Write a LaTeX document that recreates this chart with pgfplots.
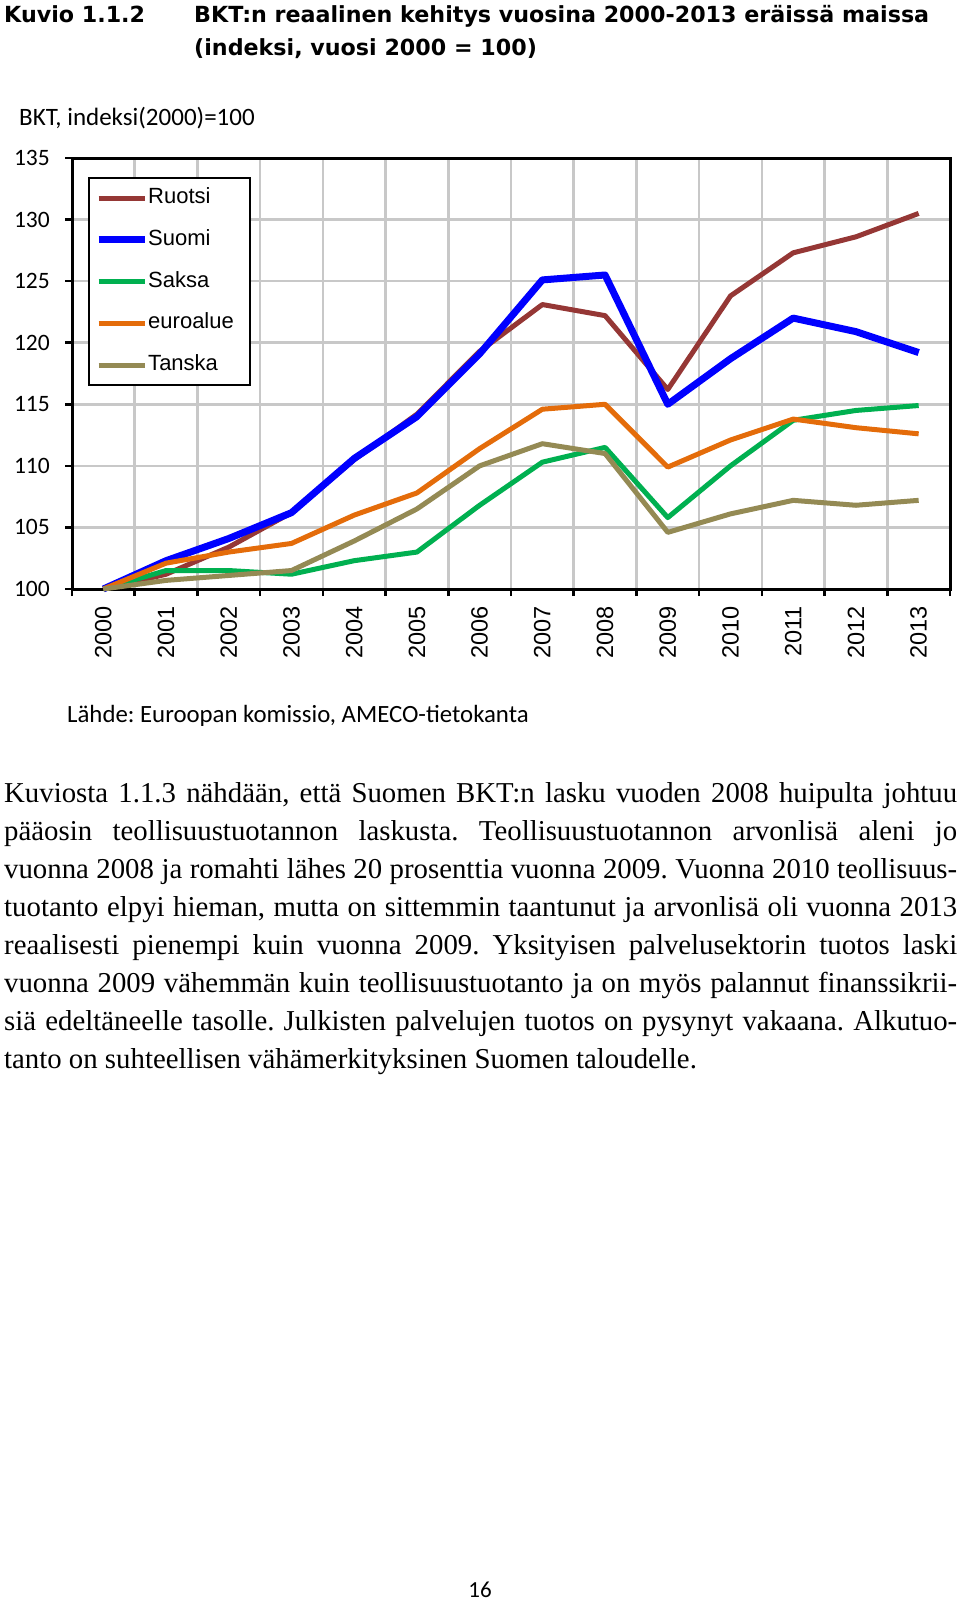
\documentclass[border=0pt]{standalone}
\usepackage{fontspec}
\setmainfont{Liberation Serif}
\newfontfamily\titlefont{DejaVu Sans}
\newfontfamily\calfont{Carlito}
\newfontfamily\arialfont{Liberation Sans}
\usepackage{pgfplots}
\pgfplotsset{compat=1.18}
\definecolor{ruotsi}{HTML}{953735}
\definecolor{suomi}{HTML}{0000FF}
\definecolor{saksa}{HTML}{00B050}
\definecolor{euro}{HTML}{E46C0A}
\definecolor{tanska}{HTML}{948A54}
\definecolor{gridgray}{HTML}{C8C8C8}
\newcommand\bodysize{\fontsize{28.8}{32}\selectfont}
\frenchspacing
\begin{document}
\begin{tikzpicture}[x=1pt,y=1pt]
\path[use as bounding box] (0,0) rectangle (960,-1600);
% heading
\node[anchor=base west, inner sep=0pt] at (4,-23) {\titlefont\bfseries\fontsize{22.2}{26}\selectfont Kuvio 1.1.2};
\node[anchor=base west, inner sep=0pt] at (194,-23) {\titlefont\bfseries\fontsize{22.2}{26}\selectfont BKT:n reaalinen kehitys vuosina 2000-2013 eräissä maissa};
\node[anchor=base west, inner sep=0pt] at (194,-56) {\titlefont\bfseries\fontsize{22.2}{26}\selectfont (indeksi, vuosi 2000 = 100)};
\node[anchor=base west, inner sep=0pt] at (19,-125) {\calfont\fontsize{25}{29}\selectfont BKT, indeksi(2000)=100};

\begin{axis}[
  at={(72pt,-589pt)}, anchor=south west,
  width=878pt, height=431pt, scale only axis,
  xmin=-0.5, xmax=13.5, ymin=100, ymax=135,
  clip=false,
  xtick={0,...,13},
  xticklabels={2000,2001,2002,2003,2004,2005,2006,2007,2008,2009,2010,2011,2012,2013},
  minor xtick={-0.5,0.5,...,13.5},
  ytick={100,105,...,135},
  xminorgrids=true, ymajorgrids=true,
  grid style={gridgray, line width=2.5pt},
  minor grid style={gridgray, line width=2.5pt},
  tick align=outside, tick pos=left,
  major tick length=7pt, minor tick length=7pt,
  tick style={black, line width=2.5pt},
  major x tick style={draw=none},
  axis line style={line width=3pt, black},
  /pgf/number format/assume math mode=true,
  yticklabel style={font=\calfont\fontsize{23.5}{23.5}\selectfont, anchor=east, inner sep=0pt, xshift=-15pt},
  xticklabel style={font=\arialfont\fontsize{23.5}{23.5}\selectfont, yshift=-10pt, rotate=90, anchor=east, inner sep=0pt},
  legend style={at={(0.0182,0.956)}, anchor=north west, draw=black, line width=2.5pt, fill=white,
    font=\arialfont\fontsize{22}{22}\selectfont, row sep=17.7pt, inner xsep=6pt, inner ysep=8pt,
    nodes={inner ysep=1.5pt, inner xsep=0pt, text height=16pt, text depth=5pt, text width=96pt, align=left}},
  legend cell align=left,
  legend image code/.code={\draw[#1, line cap=butt] (0pt,0pt) -- (46pt,0pt);},
  every axis plot/.append style={line join=round},
]
\addplot[ruotsi, line width=5pt] coordinates {(0,100) (1,101.2) (2,103.4) (3,106.2) (4,110.5) (5,114.2) (6,119.3) (7,123.1) (8,122.2) (9,116.2) (10,123.8) (11,127.3) (12,128.6) (13,130.5)};
\addlegendentry{Ruotsi}
\addplot[suomi, line width=7pt] coordinates {(0,100) (1,102.3) (2,104.1) (3,106.2) (4,110.6) (5,114.0) (6,119.1) (7,125.1) (8,125.5) (9,115.0) (10,118.7) (11,122.0) (12,120.9) (13,119.2)};
\addlegendentry{Suomi}
\addplot[saksa, line width=5pt] coordinates {(0,100) (1,101.5) (2,101.5) (3,101.2) (4,102.3) (5,103.0) (6,106.8) (7,110.3) (8,111.5) (9,105.8) (10,110.0) (11,113.7) (12,114.5) (13,114.9)};
\addlegendentry{Saksa}
\addplot[euro, line width=5pt] coordinates {(0,100) (1,102.1) (2,103.0) (3,103.7) (4,106.0) (5,107.8) (6,111.4) (7,114.6) (8,115.0) (9,109.9) (10,112.1) (11,113.8) (12,113.1) (13,112.6)};
\addlegendentry{euroalue}
\addplot[tanska, line width=5pt] coordinates {(0,100) (1,100.7) (2,101.1) (3,101.5) (4,103.9) (5,106.5) (6,110.0) (7,111.8) (8,111.0) (9,104.6) (10,106.1) (11,107.2) (12,106.8) (13,107.2)};
\addlegendentry{Tanska}
\end{axis}

\node[anchor=base west, inner sep=0pt] at (67,-722) {\calfont\fontsize{24.8}{28}\selectfont Lähde: Euroopan komissio, AMECO-tietokanta};

% body text
\node[anchor=base west, inner sep=0pt] at (4,-802) {\bodysize\makebox[953pt][s]{Kuviosta 1.1.3 nähdään, että Suomen BKT:n lasku vuoden 2008 huipulta johtuu}};
\node[anchor=base west, inner sep=0pt] at (4,-840) {\bodysize\makebox[953pt][s]{pääosin teollisuustuotannon laskusta. Teollisuustuotannon arvonlisä aleni jo}};
\node[anchor=base west, inner sep=0pt] at (4,-878) {\bodysize\makebox[953pt][s]{vuonna 2008 ja romahti lähes 20 prosenttia vuonna 2009. Vuonna 2010 teollisuus-}};
\node[anchor=base west, inner sep=0pt] at (4,-916) {\bodysize\makebox[953pt][s]{tuotanto elpyi hieman, mutta on sittemmin taantunut ja arvonlisä oli vuonna 2013}};
\node[anchor=base west, inner sep=0pt] at (4,-954) {\bodysize\makebox[953pt][s]{reaalisesti pienempi kuin vuonna 2009. Yksityisen palvelusektorin tuotos laski}};
\node[anchor=base west, inner sep=0pt] at (4,-992) {\bodysize\makebox[953pt][s]{vuonna 2009 vähemmän kuin teollisuustuotanto ja on myös palannut finanssikrii-}};
\node[anchor=base west, inner sep=0pt] at (4,-1030) {\bodysize\makebox[953pt][s]{siä edeltäneelle tasolle. Julkisten palvelujen tuotos on pysynyt vakaana. Alkutuo-}};
\node[anchor=base west, inner sep=0pt] at (4,-1068) {\bodysize tanto on suhteellisen vähämerkityksinen Suomen taloudelle.};

\node[anchor=base, inner sep=0pt] at (480,-1597) {\calfont\fontsize{23}{27}\selectfont 16};
\end{tikzpicture}
\end{document}
